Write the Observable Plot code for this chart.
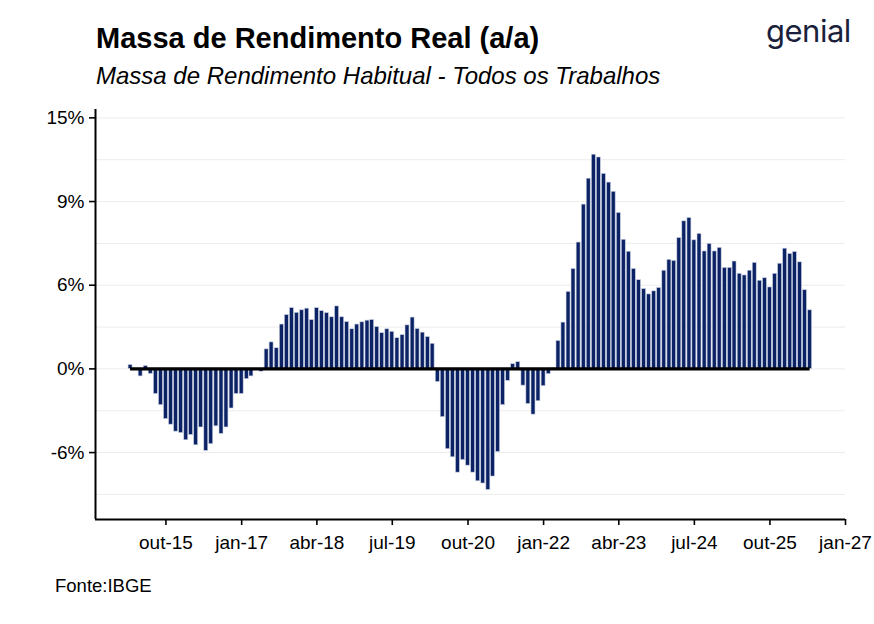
<!DOCTYPE html>
<html><head><meta charset="utf-8">
<script src="https://cdn.jsdelivr.net/npm/d3@7"></script>
<script src="https://cdn.jsdelivr.net/npm/@observablehq/plot@0.6"></script>
<style>
body{margin:0;width:874px;height:624px;background:#fff;font-family:"Liberation Sans",Arial,sans-serif;position:relative;overflow:hidden}
#title{position:absolute;left:96px;top:22px;font-size:29px;font-weight:bold;color:#000}
#sub{position:absolute;left:96px;top:62px;font-size:24px;font-style:italic;color:#000}
#logo{position:absolute;left:766px;top:12px;font-size:31px;color:#1a1f3c;font-family:"Inter","Liberation Sans",sans-serif;letter-spacing:-0.5px}
#src{position:absolute;left:55px;top:575px;font-size:18.5px;color:#000}
#chart{position:absolute;left:0;top:99px}
</style></head><body>
<div id="title">Massa de Rendimento Real (a/a)</div>
<div id="sub">Massa de Rendimento Habitual - Todos os Trabalhos</div>
<div id="logo">genial</div>
<div id="chart"></div>
<div id="src">Fonte:IBGE</div>
<script>
const startMonth = "2015-03";
const values = [
 0.14,0,-0.27,0.1,-0.18,-0.9,-1.3,-1.8,-2.0,-2.25,-2.3,-2.56,-2.37,-2.74,-2.1,-2.94,-2.7,-2.06,-2.33,-2.1,-1.42,-0.9,-0.9,-0.37,-0.27,-0.05,-0.1,0.7,0.95,
 0.74,1.59,1.93,2.18,2.01,2.1,2.16,1.75,2.18,2.07,2.0,1.85,2.24,1.85,1.68,1.42,1.59,1.67,1.73,1.75,1.5,1.28,1.42,1.33,1.1,1.21,1.56,1.84,1.43,1.3,1.14,0.9,
 -0.47,-1.73,-2.88,-3.17,-3.72,-3.27,-3.47,-3.72,-4.03,-4.11,-4.34,-3.86,-2.98,-1.3,-0.43,0.17,0.24,-0.6,-1.26,-1.64,-1.16,-0.62,-0.19,0.02,
 1.0,1.66,2.76,3.58,4.53,5.89,6.82,7.68,7.58,6.99,6.68,6.35,5.59,4.63,4.2,3.58,3.18,2.86,2.67,2.78,2.9,
 3.52,3.91,3.87,4.69,5.29,5.41,4.61,4.84,4.21,4.48,4.21,4.34,3.62,3.62,3.85,3.41,3.35,3.52,3.8,3.16,3.25,2.92,3.41,3.77,4.31,4.12,4.19,3.82,2.82,2.1
];
const yTicks = [-3,0,3,6,9];
const yLabels = ["-6%","0%","6%","9%","15%"];
const xTicks = ["2015-10","2017-01","2018-04","2019-07","2020-10","2022-01","2023-04","2024-07","2025-10","2027-01"];
const xLabels = ["out-15","jan-17","abr-18","jul-19","out-20","jan-22","abr-23","jul-24","out-25","jan-27"];

const start = new Date(startMonth + "-01T00:00:00Z");
const data = values.map((v,i)=>{
  const d = d3.utcMonth.offset(start,i);
  return {d, x1:d3.utcDay.offset(d,-12), x2:d3.utcDay.offset(d,12), v};
});
const xt = xTicks.map(s=>new Date(s+"-01T00:00:00Z"));
const grid = d3.range(-4.5,9.1,1.5);
const plot = Plot.plot({
  width:874, height:470,
  marginLeft:95, marginRight:29, marginTop:10, marginBottom:50,
  style:{fontFamily:"Liberation Sans, Arial, sans-serif", fontSize:"19px", color:"#000", background:"#fff"},
  x:{type:"utc", domain:[new Date("2014-08-01T00:00:00Z"), new Date("2027-01-01T00:00:00Z")]},
  y:{domain:[-5.4,9.3]},
  marks:[
    Plot.ruleY(grid,{stroke:"#ececec", strokeWidth:1}),
    Plot.rectY(data,{x1:"x1",x2:"x2",y:"v",fill:"#0b2264",stroke:"#c9d0e3",strokeWidth:0.6}),
    Plot.ruleY([0],{x1:data[0].d, x2:data[data.length-1].d, stroke:"#000", strokeWidth:3.2}),
    Plot.axisY({ticks:yTicks, tickFormat:(t)=>yLabels[yTicks.indexOf(t)], tickSize:6, tickPadding:5, fontSize:19, label:null}),
    Plot.axisX({ticks:xt, tickFormat:(t)=>xLabels[xt.findIndex(u=>+u===+t)], tickSize:6, tickPadding:10, fontSize:19, label:null}),
    Plot.ruleX([new Date("2014-08-01T00:00:00Z")],{stroke:"#000",strokeWidth:2}),
    Plot.ruleY([-5.4],{stroke:"#000",strokeWidth:2})
  ]
});
plot.querySelectorAll('[aria-label="y-axis tick"] path, [aria-label="x-axis tick"] path').forEach(p=>{p.setAttribute("stroke-width","1.6");});
document.getElementById("chart").appendChild(plot);
</script>
</body></html>
